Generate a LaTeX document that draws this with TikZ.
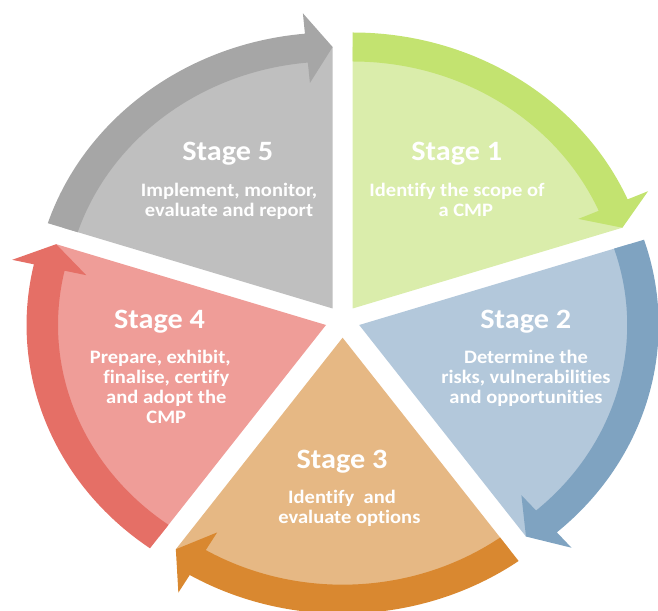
\documentclass[tikz,border=0pt]{standalone}
\usepackage{fontspec}
\setmainfont[FakeStretch=1.08,Ligatures=NoCommon]{Carlito}
\definecolor{gL}{HTML}{DAEDAB}\definecolor{gD}{HTML}{C3E370}
\definecolor{bL}{HTML}{B3C8DB}\definecolor{bD}{HTML}{7FA3C1}
\definecolor{oL}{HTML}{E6B884}\definecolor{oD}{HTML}{D98830}
\definecolor{rL}{HTML}{EF9D98}\definecolor{rD}{HTML}{E56F66}
\definecolor{yL}{HTML}{BFBFBF}\definecolor{yD}{HTML}{A6A6A6}
% #1,#2 apex, #3 start angle (clockwise sweep of 72 deg), #4 light, #5 dark
\newcommand{\cmpsector}[5]{%
  \begin{scope}[shift={(#1,#2)},xscale=1.085]
    \pgfmathsetmacro{\cmpe}{#3-72}
    \pgfmathsetmacro{\cmpb}{#3-66.7}
    \fill[#4] (0,0) -- (#3:261.5) arc[start angle=#3, end angle=\cmpe, radius=261.5] -- cycle;
    \fill[#5] (#3:276) arc[start angle=#3, end angle=\cmpb, radius=276]
      -- (\cmpb:296.5) -- (\cmpe:261.5) -- (\cmpb:226.5) -- (\cmpb:247)
      arc[start angle=\cmpb, end angle=#3, radius=247] -- cycle;
  \end{scope}}
\begin{document}
\begin{tikzpicture}[x=1pt,y=1pt,
  stitle/.style={text=white,font=\bfseries\fontsize{28}{32}\selectfont,anchor=base,inner sep=0pt},
  sbody/.style={text=white,font=\bfseries\fontsize{19}{20}\selectfont,align=center,anchor=base,inner sep=0pt}]
\useasboundingbox (0,0) rectangle (658,610);
\clip (0,0) rectangle (658,610);
\cmpsector{352.6}{301.5}{90}{gL}{gD}
\cmpsector{359.2}{285}{18}{bL}{bD}
\cmpsector{342.6}{272.3}{-54}{oL}{oD}
\cmpsector{326}{285}{-126}{rL}{rD}
\cmpsector{332.6}{301.5}{162}{yL}{yD}
\node[stitle] (t1) at (456.7,449) {Stage 1};
\node[sbody] (b1) at (465.8,393.3) {Identify the scope of\hspace*{17.6pt}\\a CMP};
\node[stitle] (t2) at (525.8,281) {Stage 2};
\node[sbody] (b2) at (526,206.7) {Determine the\\risks, vulnerabilities\\and opportunities};
\node[stitle] (t3) at (342,141.7) {Stage 3};
\node[sbody] (b3) at (349.4,86.6) {Identify\ \ and\hspace*{14.8pt}\\evaluate options};
\node[stitle] (t4) at (159.5,281) {Stage 4};
\node[sbody] (b4) at (166.3,186.7) {Prepare, exhibit,\hspace*{12pt}\\finalise, certify\\and adopt the\\CMP};
\node[stitle] (t5) at (227.7,449) {Stage 5};
\node[sbody] (b5) at (229,393.3) {Implement, monitor,\\evaluate and report};
\end{tikzpicture}
\end{document}
